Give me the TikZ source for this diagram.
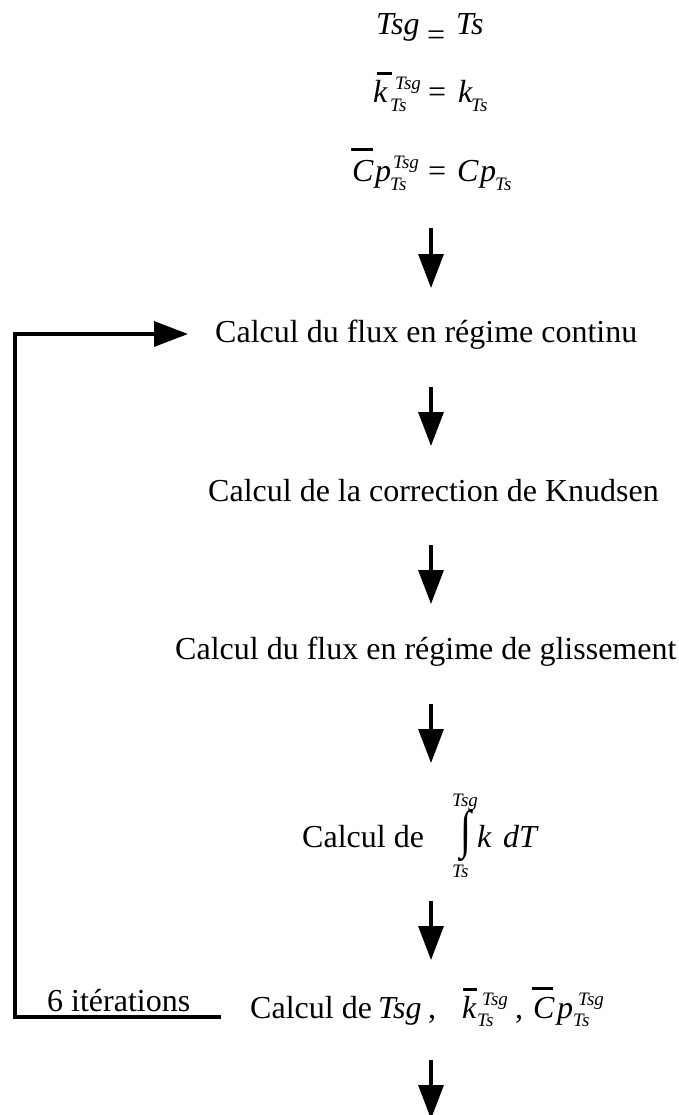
\documentclass[tikz,border=0pt]{standalone}
\usepackage{fontspec}
\setmainfont{Liberation Serif}
\usepackage{graphicx}
\usetikzlibrary{arrows.meta}
\newcommand\bigsz{\fontsize{32}{38}\selectfont}
\newcommand\smsz{\fontsize{19}{22}\selectfont}
\tikzset{
  txt/.style={inner sep=0pt, anchor=base west, font=\bigsz},
  mth/.style={inner sep=0pt, anchor=base west, font=\bigsz\itshape},
  sml/.style={inner sep=0pt, anchor=base west, font=\smsz\itshape},
  flow/.style={line width=3.3pt, line join=miter, -{Triangle[length=34pt,width=25pt]}},
  barline/.style={line width=3pt},
}
\begin{document}
\begin{tikzpicture}[x=1pt,y=-1pt]
\useasboundingbox (0,0) rectangle (679,1115);
\clip (0,0) rectangle (679,1115);

% --- initial equations ---
\node[mth] (e1a) at (376,35) {Tsg};
\node[txt] (e1b) at (427,46) {=};
\node[mth] (e1c) at (456,35) {Ts};

\node[mth] (e2a) at (373,103) {k};
\draw[barline] (377,74) -- (392,74);
\node[sml] (e2b) at (390,112) {Ts};
\node[sml] (e2c) at (395,90) {Tsg};
\node[txt] (e2d) at (428,103) {=};
\node[mth] (e2e) at (458,103) {k};
\node[sml] (e2f) at (471,112) {Ts};

\draw[barline] (351,150) -- (373,150);
\node[mth] (e3a) at (352,182) {C};
\node[mth] (e3b) at (375,182) {p};
\node[sml] (e3c) at (390,191) {Ts};
\node[sml] (e3d) at (393,169) {Tsg};
\node[txt] (e3e) at (428,182) {=};
\node[mth] (e3f) at (457,182) {C};
\node[mth] (e3g) at (480,182) {p};
\node[sml] (e3h) at (495,191) {Ts};

% --- steps ---
\node[txt] (t1) at (215,342) {Calcul du flux en régime continu};
\node[txt] (t2) at (208,501) {Calcul de la correction de Knudsen};
\node[txt] (t3) at (175,659) {Calcul du flux en régime de glissement};

\node[txt] (t4) at (302,847) {Calcul de};
\node[inner sep=0pt, font=\bigsz] (int) at (466,836) {\scalebox{1.25}[1.65]{∫}};
\node[sml] (t4up) at (452,806) {Tsg};
\node[sml] (t4lo) at (452,877) {Ts};
\node[mth] (t4k) at (477,847) {k};
\node[mth] (t4d) at (503,847) {dT};

\node[txt] (t5) at (250,1018) {Calcul de};
\node[mth] (t5a) at (378,1018) {Tsg};
\node[txt] (t5b) at (428,1018) {,};
\node[mth] (t5c) at (462,1018) {k};
\draw[barline] (463,989) -- (477,989);
\node[sml] (t5d) at (477,1026) {Ts};
\node[sml] (t5e) at (482,1005) {Tsg};
\node[txt] (t5f) at (515,1018) {,};
\draw[barline] (532,988) -- (553,988);
\node[mth] (t5g) at (533,1018) {C};
\node[mth] (t5h) at (557,1018) {p};
\node[sml] (t5i) at (573,1026) {Ts};
\node[sml] (t5j) at (578,1005) {Tsg};

\node[txt] (iter) at (47,1011) {6 itérations};

% --- arrows ---
\coordinate (a1s) at (431,228); \coordinate (a1e) at (431,288);
\coordinate (a2s) at (431,387); \coordinate (a2e) at (431,446);
\coordinate (a3s) at (431,545); \coordinate (a3e) at (431,604);
\coordinate (a4s) at (431,704); \coordinate (a4e) at (431,763);
\coordinate (a5s) at (431,901); \coordinate (a5e) at (431,960);
\coordinate (a6s) at (431,1060); \coordinate (a6e) at (431,1119);
\draw[flow] (a1s) -- (a1e);
\draw[flow] (a2s) -- (a2e);
\draw[flow] (a3s) -- (a3e);
\draw[flow] (a4s) -- (a4e);
\draw[flow] (a5s) -- (a5e);
\draw[flow] (a6s) -- (a6e);

% --- loop back ---
\coordinate (lp0) at (221,1017);
\coordinate (lp1) at (15,1017);
\coordinate (lp2) at (15,334);
\coordinate (lp3) at (188,334);
\draw[flow] (lp0) -- (lp1) -- (lp2) -- (lp3);
\end{tikzpicture}
\end{document}
